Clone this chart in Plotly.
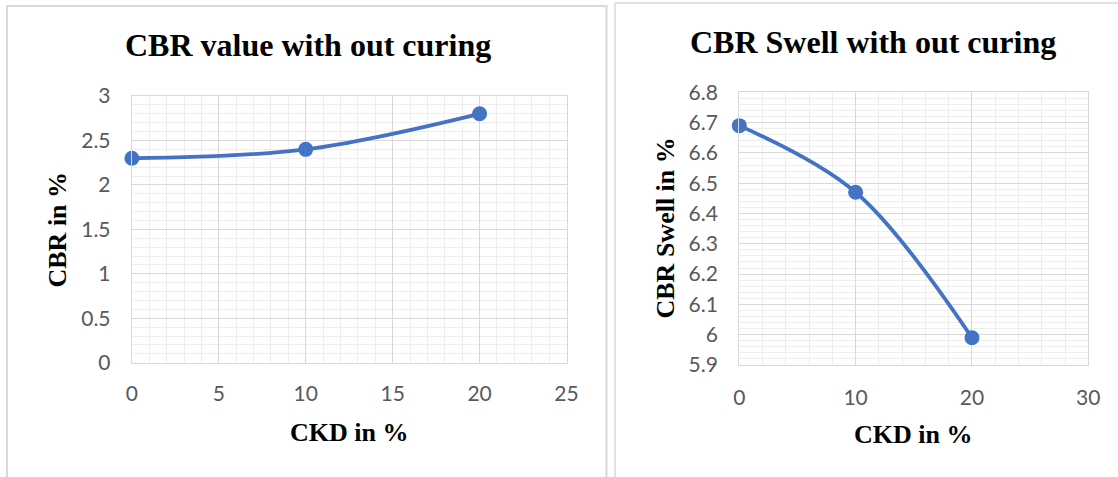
import plotly.graph_objects as go

W, H = 1118, 477

# Data
ckd = [0, 10, 20]
cbr_value = [2.3, 2.4, 2.8]
cbr_swell = [6.69, 6.47, 5.99]

title_left = "CBR value with out curing"
title_right = "CBR Swell with out curing"
xlabel = "CKD in %"
ylabel_left = "CBR in %"
ylabel_right = "CBR Swell in %"

BLUE = "#4472C4"
MAJ = "#d9d9d9"
MIN = "#eeeeee"
TICK = "#595959"
SERIF = "Liberation Serif, Times New Roman, serif"
SANS = "Lato, Carlito, Calibri, sans-serif"

def px(x):
    return x / W

def py(y):
    return 1 - y / H

fig = go.Figure()
fig.add_trace(go.Scatter(x=ckd, y=cbr_value, mode="lines+markers",
                         line=dict(color=BLUE, width=3.8, shape="spline", smoothing=1),
                         marker=dict(color=BLUE, size=15), cliponaxis=False,
                         xaxis="x", yaxis="y", showlegend=False))
fig.add_trace(go.Scatter(x=ckd, y=cbr_swell, mode="lines+markers",
                         line=dict(color=BLUE, width=3.8, shape="spline", smoothing=1),
                         marker=dict(color=BLUE, size=15), cliponaxis=False,
                         xaxis="x2", yaxis="y2", showlegend=False))

def axis(domain, rng, dtick, mdtick, fsize, anchor, standoff):
    return dict(domain=domain, range=rng, dtick=dtick, tick0=rng[0],
                showgrid=True, gridcolor=MAJ, gridwidth=1.3,
                minor=dict(dtick=mdtick, tick0=rng[0], showgrid=True, gridcolor=MIN, gridwidth=1),
                showline=True, linecolor=MAJ, linewidth=1.3, mirror=True,
                zeroline=False, ticks="", anchor=anchor, automargin=False,
                tickfont=dict(family=SANS, size=fsize, color=TICK),
                ticklabelstandoff=standoff, fixedrange=True)

fig.update_layout(
    width=W, height=H,
    margin=dict(l=0, r=0, t=0, b=0, pad=0, autoexpand=False),
    showlegend=False,
    paper_bgcolor="white", plot_bgcolor="white",
    xaxis=axis([px(131.9), px(566.5)], [0, 25], 5, 1, 21, "y", 12),
    yaxis=axis([py(362.7), py(96)], [0, 3], 0.5, 0.1, 21, "x", 16),
    xaxis2=axis([px(739.3), px(1088.3)], [0, 30], 10, 2, 21, "y2", 14),
    yaxis2=axis([py(365), py(92.3)], [5.9, 6.8], 0.1, 0.02, 21, "x2", 16),
)

ann = []
def text(x, y, s, size, angle=0):
    ann.append(dict(x=px(x), y=py(y), xref="paper", yref="paper", text=s,
                    showarrow=False, textangle=angle,
                    font=dict(family=SERIF, size=size, color="black"),
                    xanchor="center", yanchor="middle"))

text(307.8, 45, "<b>%s</b>" % title_left, 32)
text(872.5, 42, "<b>%s</b>" % title_right, 32)
text(348.6, 432, "<b>%s</b>" % xlabel, 26)
text(913, 434, "<b>%s</b>" % xlabel, 26)
text(57, 229.5, "<b>%s</b>" % ylabel_left, 26, -90)
text(665, 228.5, "<b>%s</b>" % ylabel_right, 26, -90)
fig.update_layout(annotations=ann)

shapes = [
    dict(type="rect", xref="paper", yref="paper", x0=px(7), x1=px(606.5), y0=py(490), y1=py(6),
         line=dict(color=MAJ, width=2), fillcolor="rgba(0,0,0,0)"),
    dict(type="rect", xref="paper", yref="paper", x0=px(615), x1=px(1130), y0=py(490), y1=py(3),
         line=dict(color=MAJ, width=1.5), fillcolor="rgba(0,0,0,0)"),
]
fig.update_layout(shapes=shapes)

fig.write_html("out.html", config=dict(displayModeBar=False))
